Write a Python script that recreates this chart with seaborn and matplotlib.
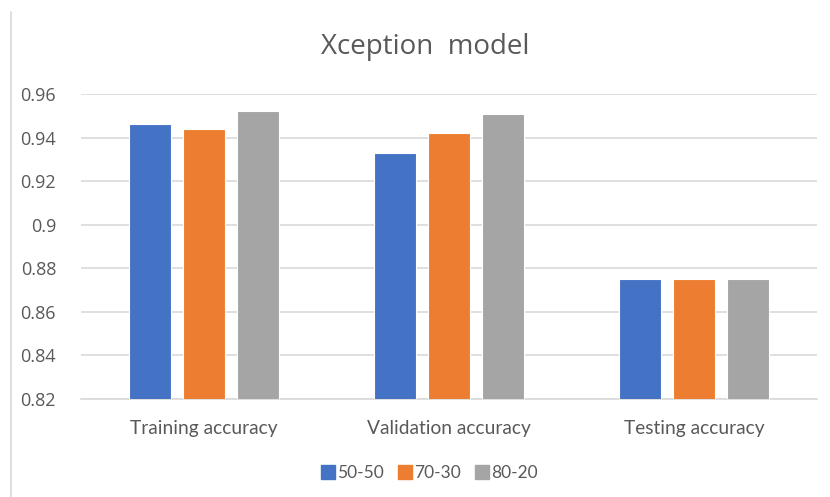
import matplotlib
matplotlib.use("Agg")
import matplotlib.pyplot as plt
from matplotlib.lines import Line2D
import seaborn as sns
import pandas as pd

# Accuracy per evaluation stage for each train/test split
categories = ["Training accuracy", "Validation accuracy", "Testing accuracy"]
splits = ["50-50", "70-30", "80-20"]
acc_50_50 = [0.946, 0.933, 0.875]
acc_70_30 = [0.944, 0.942, 0.875]
acc_80_20 = [0.952, 0.951, 0.875]
yticks = [0.82, 0.84, 0.86, 0.88, 0.9, 0.92, 0.94, 0.96]
ytick_labels = ["0.82", "0.84", "0.86", "0.88", "0.9", "0.92", "0.94", "0.96"]

colors = ["#4472C4", "#ED7D31", "#A5A5A5"]
text_color = "#595959"

df = pd.DataFrame({
    "stage": categories * 3,
    "split": [s for s in splits for _ in categories],
    "accuracy": acc_50_50 + acc_70_30 + acc_80_20,
})

sns.set_theme(style="white")
plt.rcParams["font.family"] = ["Open Sans", "DejaVu Sans"]

fig = plt.figure(figsize=(8.3, 4.97), dpi=100)
ax = fig.add_axes([0.0976, 0.197, 0.8864, 0.614])

sns.barplot(data=df, x="stage", y="accuracy", hue="split", order=categories,
            hue_order=splits, palette=colors, width=0.66, gap=0.22,
            edgecolor="white", linewidth=0.8, saturation=1, ax=ax, legend=False,
            zorder=3)

ax.set_ylim(0.82, 0.96)
ax.set_xlim(-0.5, 2.5)
ax.set_yticks(yticks)
ax.set_yticklabels(ytick_labels)
ax.yaxis.grid(True, color="#D9D9D9", linewidth=1.2, zorder=0)
ax.set_axisbelow(True)
for side in ["top", "right", "left"]:
    ax.spines[side].set_visible(False)
ax.spines["bottom"].set_color("#D9D9D9")
ax.spines["bottom"].set_linewidth(1.2)
ax.tick_params(axis="both", length=0, colors=text_color)
ax.tick_params(axis="y", pad=18, labelsize=13)
ax.tick_params(axis="x", pad=15)
for lab in ax.get_xticklabels():
    lab.set_family(["Lato", "DejaVu Sans"])
    lab.set_fontsize(13.8)
ax.set_xlabel("")
ax.set_ylabel("")

fig.text(0.512, 0.905, "Xception  model", ha="center", va="center",
         fontsize=20, color=text_color)

handles = [Line2D([0], [0], marker="s", linestyle="none", markersize=10,
                  markerfacecolor=c, markeredgecolor=c) for c in colors]
fig.legend(handles, splits, loc="center", bbox_to_anchor=(0.518, 0.049),
           ncol=3, frameon=False, handlelength=0.7, handletextpad=0.15,
           columnspacing=0.9, prop={"family": ["Lato", "DejaVu Sans"], "size": 12.5},
           labelcolor=text_color)

# Thin chart-area border on the left edge
fig.add_artist(Line2D([0.0133, 0.0133], [0.0, 0.976], color="#D9D9D9",
                      linewidth=1.2, transform=fig.transFigure))

fig.savefig("out.png", dpi=100, facecolor="white")
